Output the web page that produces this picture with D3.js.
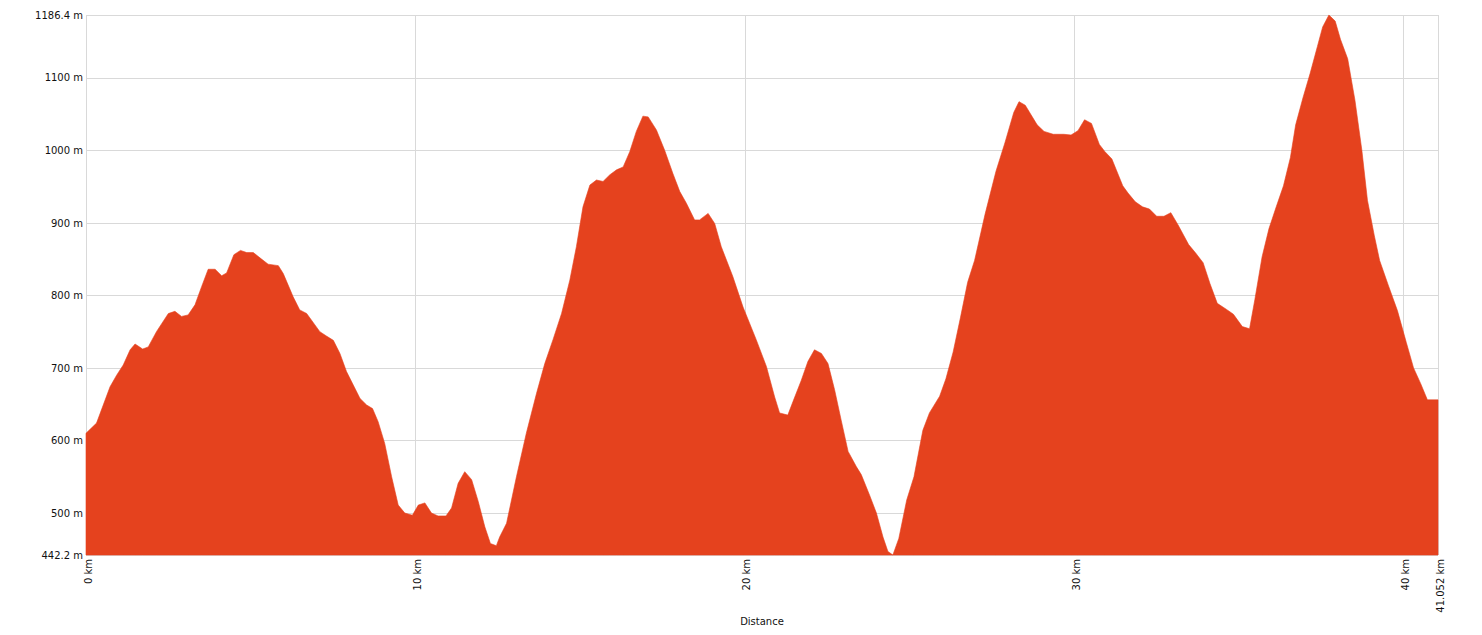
<!DOCTYPE html>
<html>
<head>
<meta charset="utf-8">
<script src="https://cdn.jsdelivr.net/npm/d3@7/dist/d3.min.js"></script>
<style>
  html, body { margin: 0; padding: 0; background: #fff; }
  svg { display: block; }
  text { font-family: "DejaVu Sans", Verdana, sans-serif; }
</style>
</head>
<body>
<svg id="chart" width="1482" height="635"></svg>
<script>
// Distance along the route (km)
const distanceKm = [
  0, 0.32, 0.73, 0.93, 1.13, 1.34, 1.49, 1.72, 1.89, 2.14, 2.50, 2.70, 2.90, 3.10, 3.31, 3.51, 3.71, 3.92, 4.12, 4.27,
  4.49, 4.69, 4.88, 5.08, 5.33, 5.53, 5.84, 5.99, 6.29, 6.49, 6.70, 7.10, 7.30, 7.51, 7.71, 7.91, 8.32, 8.52, 8.70, 8.87,
  9.07, 9.28, 9.48, 9.68, 9.91, 10.09, 10.29, 10.49, 10.69, 10.93, 11.10, 11.30, 11.50, 11.71, 11.91, 12.11, 12.28, 12.46, 12.56, 12.77,
  13.07, 13.37, 13.68, 13.93, 14.18, 14.44, 14.69, 14.89, 15.09, 15.30, 15.50, 15.70, 15.90, 16.11, 16.31, 16.51, 16.71, 16.91, 17.07, 17.32,
  17.57, 17.82, 18.03, 18.23, 18.48, 18.63, 18.89, 19.09, 19.29, 19.64, 19.95, 20.35, 20.66, 20.91, 21.06, 21.31, 21.47, 21.72, 21.92, 22.12,
  22.33, 22.53, 22.73, 22.93, 23.14, 23.39, 23.54, 23.79, 24.00, 24.20, 24.35, 24.50, 24.68, 24.92, 25.14, 25.41, 25.61, 25.92, 26.11, 26.33,
  26.55, 26.77, 26.98, 27.30, 27.63, 27.90, 28.17, 28.33, 28.52, 28.88, 29.09, 29.37, 29.69, 29.91, 30.12, 30.32, 30.53, 30.77, 30.94, 31.15,
  31.48, 31.64, 31.86, 32.08, 32.29, 32.51, 32.73, 32.94, 33.16, 33.48, 33.70, 33.92, 34.13, 34.35, 34.62, 34.84, 35.11, 35.33, 35.49, 35.71,
  35.92, 36.14, 36.36, 36.57, 36.73, 36.95, 37.17, 37.39, 37.55, 37.74, 37.93, 38.09, 38.31, 38.53, 38.74, 38.91, 39.12, 39.28, 39.55, 39.82,
  40.09, 40.31, 40.53, 40.73, 41.052
];
// Elevation (m)
const elevationM = [
  610, 624, 674, 690, 704, 725, 733, 726, 729, 750, 775, 778, 771, 773, 787, 812, 836, 836, 827, 831,
  856, 862, 859, 859, 850, 843, 841, 830, 798, 780, 775, 750, 744, 738, 720, 695, 658, 649, 644, 626,
  596, 550, 511, 500, 497, 511, 514, 500, 496, 496, 507, 541, 557, 546, 516, 481, 458, 455, 467, 486,
  550, 610, 665, 706, 739, 775, 821, 867, 922, 952, 959, 957, 966, 973, 977, 998, 1026, 1047, 1046, 1028,
  1000, 968, 943, 927, 904, 904, 913, 899, 867, 826, 784, 739, 702, 660, 638, 635, 654, 683, 709, 725,
  720, 706, 670, 628, 585, 564, 553, 525, 500, 467, 447, 442.2, 465, 518, 550, 614, 638, 661, 685, 722,
  769, 818, 848, 912, 971, 1010, 1052, 1067, 1062, 1035, 1026, 1022, 1022, 1021, 1027, 1042, 1037, 1008, 998, 988,
  951, 941, 929, 922, 919, 909, 909, 914, 897, 870, 858, 845, 816, 789, 781, 774, 757, 754, 794, 853,
  892, 922, 951, 990, 1035, 1072, 1106, 1143, 1170, 1186.4, 1178, 1153, 1126, 1069, 1000, 931, 882, 848, 813, 779,
  735, 700, 678, 656, 656
];
// Axis ticks
const xTicks = [0, 10, 20, 30, 40, 41.052];
const yTicks = [442.2, 500, 600, 700, 800, 900, 1000, 1100, 1186.4];
const xTitle = "Distance";

const data = distanceKm.map((d, i) => ({ d, e: elevationM[i] }));

const W = 1482, H = 635;
const margin = { top: 15, right: 44, bottom: 80, left: 86 };
const svg = d3.select("#chart");

const x = d3.scaleLinear().domain([0, 41.052]).range([margin.left, W - margin.right]);
const y = d3.scaleLinear().domain([442.2, 1186.4]).range([H - margin.bottom, margin.top]);

const gridColor = "#d9d9d9";

// Grid (behind)
const grid = svg.append("g");
grid.selectAll("line.h").data(yTicks).join("line")
  .attr("x1", margin.left).attr("x2", W - margin.right)
  .attr("y1", d => Math.round(y(d)) + 0.5).attr("y2", d => Math.round(y(d)) + 0.5)
  .attr("stroke", gridColor).attr("stroke-width", 1);
grid.selectAll("line.v").data(xTicks).join("line")
  .attr("x1", d => Math.round(x(d)) + 0.5).attr("x2", d => Math.round(x(d)) + 0.5)
  .attr("y1", margin.top).attr("y2", H - margin.bottom)
  .attr("stroke", gridColor).attr("stroke-width", 1);

// Area
const area = d3.area()
  .x(d => x(d.d))
  .y0(y(442.2))
  .y1(d => y(d.e))
  .curve(d3.curveLinear);

svg.append("path").datum(data)
  .attr("d", area)
  .attr("fill", "#e5421e")
  .attr("stroke", "#e5421e")
  .attr("stroke-width", 0.6)
  .attr("stroke-linejoin", "round");

// Y axis labels
const yAxis = d3.axisLeft(y).tickValues(yTicks).tickSize(0).tickPadding(3)
  .tickFormat(d => d + " m");
const gy = svg.append("g").attr("transform", `translate(${margin.left},0)`).call(yAxis);
gy.select(".domain").remove();
gy.selectAll("text").attr("font-size", 10).attr("fill", "#111")
  .attr("font-family", "DejaVu Sans, Verdana, sans-serif");

// X axis labels (rotated)
const xAxis = d3.axisBottom(x).tickValues(xTicks).tickSize(0).tickFormat(d => d + " km");
const gx = svg.append("g").attr("transform", `translate(0,${H - margin.bottom})`).call(xAxis);
gx.select(".domain").remove();
gx.selectAll("text")
  .attr("font-size", 10).attr("fill", "#111")
  .attr("font-family", "DejaVu Sans, Verdana, sans-serif")
  .attr("text-anchor", "end")
  .attr("transform", "translate(1.5,4) rotate(-90)")
  .attr("x", 0).attr("y", 0).attr("dy", "0.35em");

// X title
svg.append("text")
  .attr("x", (margin.left + W - margin.right) / 2)
  .attr("y", 625)
  .attr("text-anchor", "middle")
  .attr("font-size", 10).attr("fill", "#111")
  .text(xTitle);
</script>
</body>
</html>
